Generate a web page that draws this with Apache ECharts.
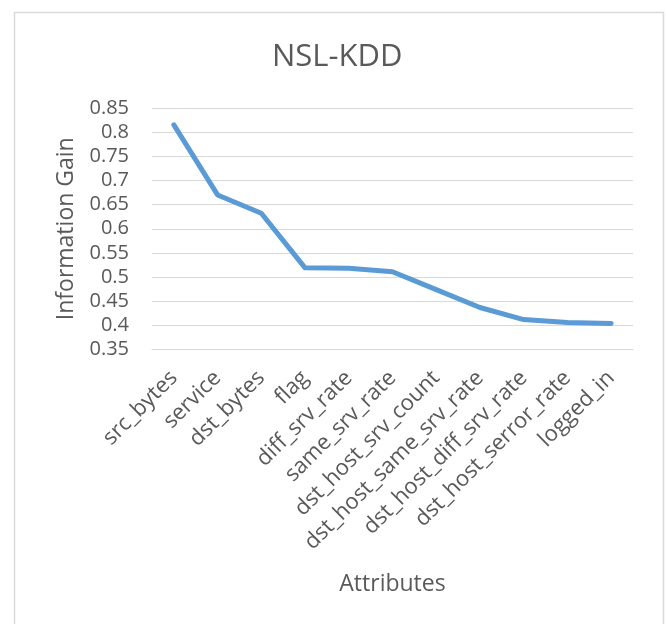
<!DOCTYPE html>
<html>
<head>
<meta charset="utf-8">
<script src="https://cdn.jsdelivr.net/npm/echarts@6/dist/echarts.min.js"></script>
<style>html,body{margin:0;padding:0;background:#fff;}#main{width:666px;height:624px;}</style>
</head>
<body>
<div id="main"></div>
<script>
const categories = ['src_bytes','service','dst_bytes','flag','diff_srv_rate','same_srv_rate','dst_host_srv_count','dst_host_same_srv_rate','dst_host_diff_srv_rate','dst_host_serror_rate','logged_in'];
const infoGain = [0.815, 0.670, 0.632, 0.519, 0.518, 0.511, 0.474, 0.437, 0.412, 0.406, 0.404];
const yTicks = {min: 0.35, max: 0.85, interval: 0.05};

const chart = echarts.init(document.getElementById('main'), null, {renderer: 'canvas'});
const txt = '#595959';
const font = 'Open Sans';
chart.setOption({
  animation: false,
  backgroundColor: '#fff',
  textStyle: {fontFamily: font},
  graphic: [{
    type: 'rect', left: 12, top: 10, silent: true,
    shape: {width: 649, height: 640},
    style: {fill: 'none', stroke: '#d9d9d9', lineWidth: 1.5}
  }],
  title: {
    text: 'NSL-KDD', left: 267, top: 37,
    textStyle: {fontFamily: font, fontSize: 31, fontWeight: 'normal', color: txt}
  },
  grid: {left: 152, right: 33, top: 108, bottom: 274.5},
  xAxis: {
    type: 'category', data: categories, boundaryGap: true,
    axisLine: {show: true, lineStyle: {color: '#d9d9d9', width: 1}},
    axisTick: {show: false},
    axisLabel: {rotate: 45, fontSize: 22, color: txt, fontFamily: font, margin: 25, interval: 0},
    name: 'Attributes', nameLocation: 'middle', nameGap: 223,
    nameTextStyle: {fontSize: 23, color: txt, fontFamily: font}
  },
  yAxis: {
    type: 'value', min: yTicks.min, max: yTicks.max, interval: yTicks.interval,
    axisLine: {show: false}, axisTick: {show: false},
    splitLine: {lineStyle: {color: '#d9d9d9', width: 1}},
    axisLabel: {fontSize: 20, color: txt, fontFamily: font, margin: 23,
      formatter: v => String(parseFloat(v.toFixed(2)))},
    name: 'Information Gain', nameLocation: 'middle', nameGap: 74, nameRotate: 90,
    nameTextStyle: {fontSize: 23, color: txt, fontFamily: font}
  },
  series: [{
    type: 'line', data: infoGain, showSymbol: false, symbol: 'none',
    lineStyle: {color: '#5b9bd5', width: 5, cap: 'round', join: 'round'},
    itemStyle: {color: '#5b9bd5'}
  }]
});
</script>
</body>
</html>
